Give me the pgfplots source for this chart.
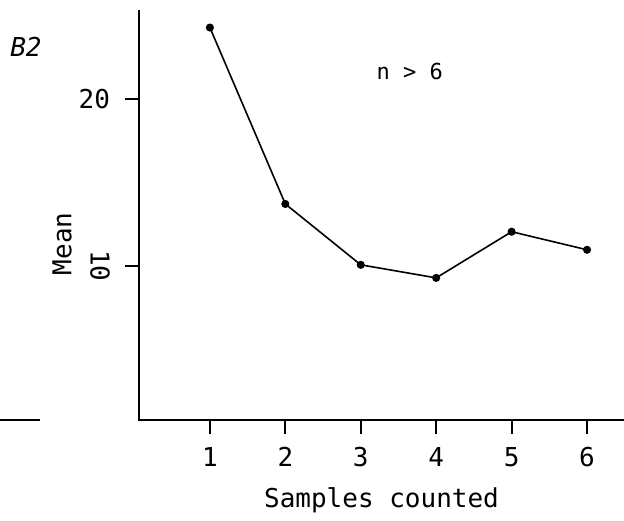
\documentclass[border=0pt]{standalone}
\usepackage{fontspec}
\setmainfont{DejaVu Sans Mono}
\usepackage{pgfplots}
\pgfplotsset{compat=1.18}
\begin{document}
\fontsize{13}{15}\selectfont
\begin{tikzpicture}
\useasboundingbox (-69.5pt,-50pt) rectangle (242.5pt,210pt);
\begin{axis}[
    at={(0,0)}, anchor=south west,
    scale only axis,
    width=242.5pt, height=205pt,
    xmin=0.06, xmax=6.49,
    ymin=0.78, ymax=25.3,
    axis line style={draw=none},
    xtick={1,...,6},
    ytick={10,20},
    yticklabels={\rotatebox{-90}{10},20},
    xtick pos=lower, ytick pos=left,
    tick align=outside,
    major tick length=7pt,
    xticklabel style={yshift=-2pt},
    yticklabel style={xshift=-3pt},
    /pgf/number format/assume math mode=true,
    xlabel={Samples counted},
    xlabel style={at={(axis description cs:0.5,0)}, anchor=center, yshift=-40pt},
    clip=false,
]
% axis lines
\draw[line width=0.9pt] (rel axis cs:0,1) -- (rel axis cs:0,0) -- (rel axis cs:1,0);
% tick positions
\pgfplotsinvokeforeach{1,...,6}{
    \coordinate (tx#1) at (axis cs:#1,0.78);
}
\coordinate (ty10) at (axis cs:0.06,10);
\coordinate (ty20) at (axis cs:0.06,20);
\addplot[black, line width=0.8pt, mark=*, mark size=1.6pt] coordinates {
    (1,24.25)
    (2,13.7)
    (3,10.06)
    (4,9.28)
    (5,12.04)
    (6,10.96)
};
\node[font=\fontsize{11}{13}\selectfont] at (axis cs:3.65,21.6) {n > 6};
\node[xshift=-38.5pt, rotate=90] at (axis description cs:0,0.43) {Mean};
\end{axis}
% tick marks as thin filled bars
\foreach \i in {1,...,6} {
    \fill[black] ([xshift=-0.45pt]tx\i) rectangle ([xshift=0.45pt, yshift=-7pt]tx\i);
}
\fill[black] ([yshift=-0.45pt]ty10) rectangle ([xshift=-7pt, yshift=0.45pt]ty10);
\fill[black] ([yshift=-0.45pt]ty20) rectangle ([xshift=-7pt, yshift=0.45pt]ty20);
\draw[line width=0.9pt] (-69.5pt,0) -- (-49.5pt,0);
\node[font=\itshape] at (-56.5pt,186.5pt) {B2};
\end{tikzpicture}
\end{document}
